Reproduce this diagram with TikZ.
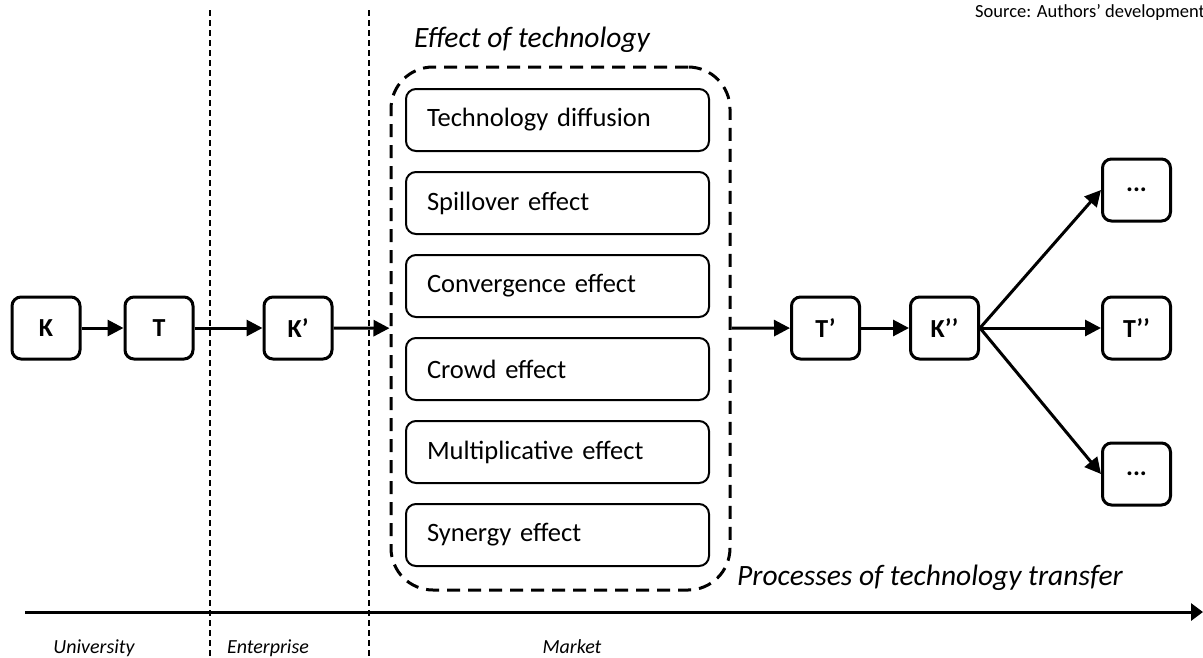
\documentclass[tikz,border=0pt]{standalone}
\usepackage{fontspec}
\setmainfont{Carlito}
\usetikzlibrary{arrows.meta}
\tikzset{stage/.style={rectangle, rounded corners=9pt, line width=3pt, draw,
   minimum width=68pt, minimum height=62pt, inner sep=0pt,
   font=\fontsize{26}{30}\selectfont\bfseries}}
\tikzset{effbox/.style={rectangle, rounded corners=10pt, line width=2pt, draw,
   minimum width=303pt, minimum height=62pt, inner sep=0pt,
   text width=261pt, align=left,
   font=\fontsize{26.5}{30}\selectfont}}
\tikzset{effgroup/.style={rectangle, rounded corners=42pt, line width=3pt, draw,
   dash pattern=on 13pt off 8pt, minimum width=339pt, minimum height=523pt}}
\tikzset{flow/.style={line width=3pt, -{Triangle[length=16pt, width=16pt]}}}
\tikzset{border/.style={line width=1.6pt, dash pattern=on 6pt off 4pt}}
\tikzset{caption/.style={font=\fontsize{29.5}{32}\selectfont\itshape, inner sep=0pt, anchor=base}}
\tikzset{place/.style={font=\fontsize{20}{24}\selectfont\itshape, inner sep=0pt, anchor=base}}

\begin{document}
\begin{tikzpicture}[x=1pt, y=-1pt]

    \useasboundingbox (0,0) rectangle (1203,657);

    % borders between university, enterprise and market
    \coordinate (b1top) at (210,10);
    \coordinate (b1bot) at (210,657);
    \coordinate (b2top) at (369,10);
    \coordinate (b2bot) at (369,657);
    \draw[border] (b1top) -- (b1bot);
    \draw[border] (b2top) -- (b2bot);

    % time axis
    \coordinate (axstart) at (25,612);
    \coordinate (axend) at (1203,612);
    \draw[flow, -{Triangle[length=12pt, width=17pt]}] (axstart) -- (axend);

    \node[place] (univ) at (94,653) {University};
    \node[place] (entr) at (268,653) {Enterprise};
    \node[place] (mark) at (572,653) {Market};

    \node[font=\fontsize{18.5}{22}\selectfont, anchor=base west, inner sep=0pt] (src) at (975,17) {Source: Authors’ development};

    % effects of technology
    \node[effgroup] (eff) at (560.5,328.5) {};
    \node[caption] (efftitle) at (532,47) {Effect of technology};
    \node[caption] (proc) at (930,585) {Processes of technology transfer};

    \node[effbox] (e1) at (557.5,120) {Technology diffusion};
    \node[effbox] (e2) at (557.5,203) {Spillover effect};
    \node[effbox] (e3) at (557.5,286) {Convergence effect};
    \node[effbox] (e4) at (557.5,369) {Crowd effect};
    \node[effbox] (e5) at (557.5,452) {Multiplicative effect};
    \node[effbox] (e6) at (557.5,535) {Synergy effect};

    % stages of the transfer
    \node[stage] (k1) at (46,328) {K};
    \node[stage] (t1) at (159,328) {T};
    \node[stage] (k2) at (298,328) {K’};
    \node[stage] (t2) at (825.5,328) {T’};
    \node[stage] (k3) at (944.5,328) {K’’};
    \node[stage] (t3) at (1136.5,328) {T’’};
    \node[stage] (up) at (1136.5,190) {...};
    \node[stage] (down) at (1136.5,474) {...};

    \draw[flow] (k1) -- (t1);
    \draw[flow] (t1) -- (k2);
    \draw[flow] (k2) -- (eff);
    \draw[flow] (eff) -- (t2);
    \draw[flow] (t2) -- (k3);
    \draw[flow] (k3.east) -- (up.west);
    \draw[flow] (k3.east) -- (t3.west);
    \draw[flow] (k3.east) -- (down.west);

  \end{tikzpicture}
\end{document}
